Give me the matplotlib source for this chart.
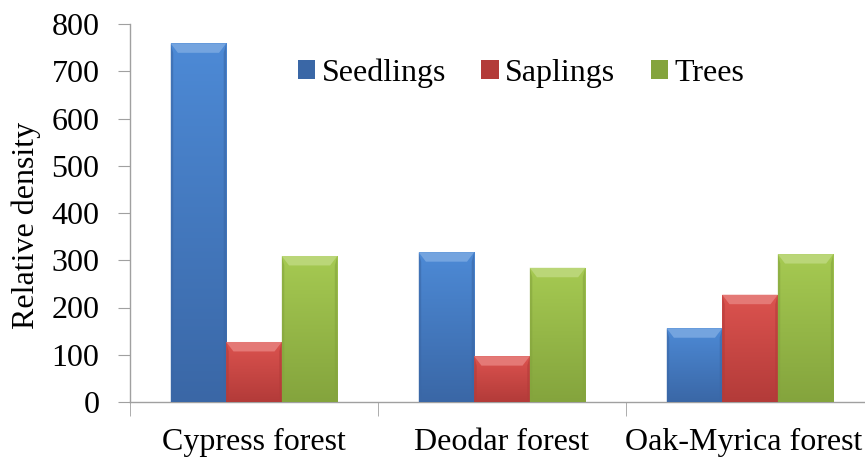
import numpy as np
import matplotlib
matplotlib.use('Agg')
import matplotlib.pyplot as plt
import matplotlib.transforms as mtransforms
from matplotlib.colors import LinearSegmentedColormap, to_rgb
from matplotlib.patches import Polygon

plt.rcParams['font.family'] = ['Liberation Serif', 'DejaVu Serif']

categories = ['Cypress forest', 'Deodar forest', 'Oak-Myrica forest']
series = ['Seedlings', 'Saplings', 'Trees']
seedlings = [759, 317, 156]
saplings = [127, 97, 227]
trees = [309, 284, 313]
yticks = [0, 100, 200, 300, 400, 500, 600, 700, 800]

values = [seedlings, saplings, trees]
# (top colour, bottom colour) for each series
colours = [('#4d8ad6', '#3a67a6'), ('#dc534f', '#b33b39'), ('#a6ca52', '#84a43d')]

fig = plt.figure(figsize=(8.65, 4.59), dpi=100)
# axes spans a bit past the right edge, like the cropped original
ax = fig.add_axes([130 / 865, 57 / 459, 744 / 865, 378 / 459])

x = np.arange(len(categories))
w = 0.224


def lighten(c, f):
    r = np.array(to_rgb(c))
    return tuple(r + (1 - r) * f)


for k, (vals, (ctop, cbot)) in enumerate(zip(values, colours)):
    bars = ax.bar(x + (k - 1) * w, vals, w, color=cbot, zorder=2,
                  edgecolor='none', label=series[k])
    cmap = LinearSegmentedColormap.from_list('g%d' % k, [cbot, ctop])
    grad = np.linspace(0, 1, 256).reshape(-1, 1)
    for b in bars:
        x0, y0 = b.get_x(), b.get_y()
        bw, bh = b.get_width(), b.get_height()
        im = ax.imshow(grad, cmap=cmap, aspect='auto', origin='lower',
                       extent=[x0, x0 + bw, y0, y0 + bh], zorder=3)
        im.set_clip_path(b)
        # bevel on top
        dx = bw * 0.13
        dy = 20
        top = Polygon([[x0, y0 + bh], [x0 + bw, y0 + bh],
                       [x0 + bw - dx, y0 + bh - dy], [x0 + dx, y0 + bh - dy]],
                      closed=True, facecolor=lighten(ctop, 0.22),
                      edgecolor='none', zorder=4)
        ax.add_patch(top)
        # darker side edges
        ax.add_patch(Polygon([[x0, y0], [x0, y0 + bh], [x0 + dx * 0.35, y0 + bh - dy],
                              [x0 + dx * 0.35, y0]], closed=True,
                             facecolor=cbot, alpha=0.6, edgecolor='none', zorder=4))
        ax.add_patch(Polygon([[x0 + bw, y0], [x0 + bw, y0 + bh],
                              [x0 + bw - dx * 0.35, y0 + bh - dy],
                              [x0 + bw - dx * 0.35, y0]], closed=True,
                             facecolor=cbot, alpha=0.6, edgecolor='none', zorder=4))

ax.set_xlim(-0.5, len(categories) - 0.5)
ax.set_ylim(0, 800)
ax.set_yticks(yticks)
ax.set_yticklabels([str(t) for t in yticks])
ax.set_xticks(x)
ax.set_xticklabels(categories)
ax.set_xticks(np.arange(len(categories) + 1) - 0.5, minor=True)

for s in ['top', 'right']:
    ax.spines[s].set_visible(False)
for s in ['left', 'bottom']:
    ax.spines[s].set_color('#a0a0a0')
    ax.spines[s].set_linewidth(1.0)

ax.tick_params(axis='y', labelsize=23, length=9, color='#a0a0a0', pad=13)
ax.tick_params(axis='x', which='major', length=0, labelsize=23, pad=19)
ax.tick_params(axis='x', which='minor', length=10, color='#a0a0a0')
ax.set_ylabel('Relative density', fontsize=23)
ax.yaxis.set_label_coords(-0.12, 0.466)

# last label sits a little left so it fits in the picture
lab = ax.get_xticklabels()[-1]
lab.set_transform(lab.get_transform() +
                  mtransforms.ScaledTranslation(-6 / 100, 0, fig.dpi_scale_trans))

leg = ax.legend(loc='upper left', bbox_to_anchor=(0.187, 0.985), ncol=3,
                frameon=False, fontsize=23, handlelength=0.55, handleheight=0.55,
                handletextpad=0.2, columnspacing=1.1)

plt.savefig('out.png', dpi=100)
